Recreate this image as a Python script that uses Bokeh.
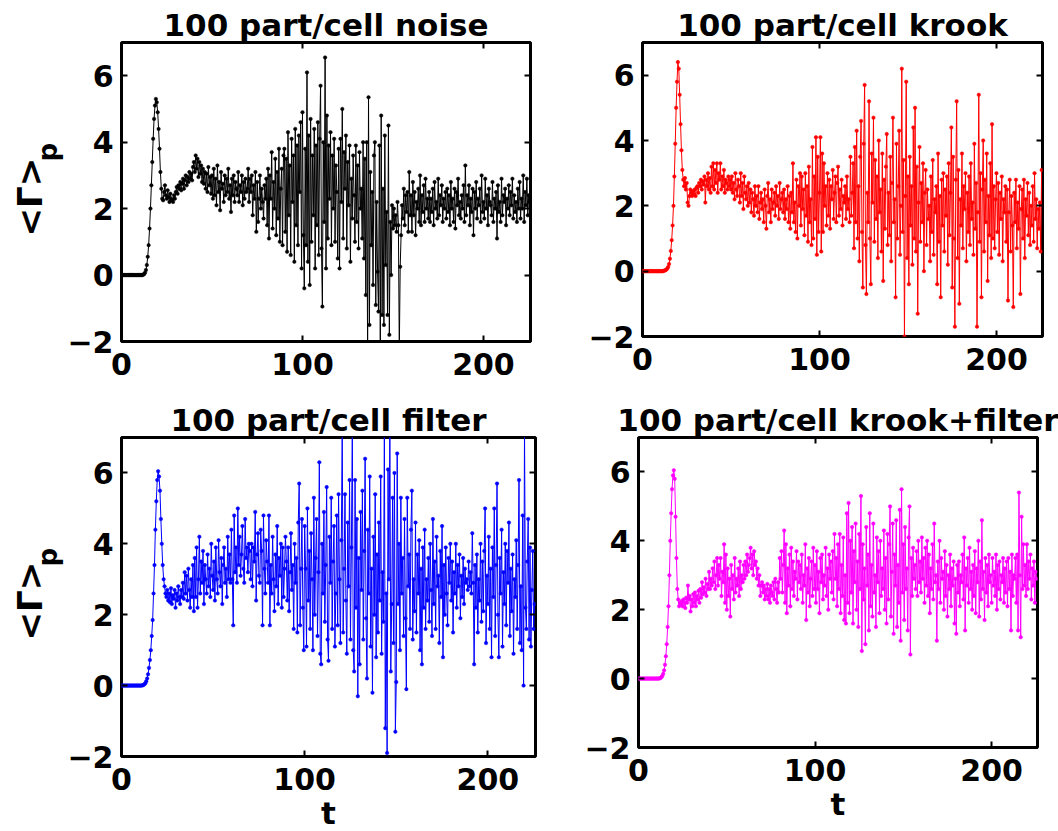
import numpy as np
from bokeh.plotting import figure
from bokeh.layouts import column, row
from bokeh.models import Range1d, FixedTicker, LinearAxis, Title
from bokeh.embed import file_html
from bokeh.resources import INLINE

DT = 0.5  # sampling step of t

titles = ["100 part/cell noise", "100 part/cell krook",
          "100 part/cell filter", "100 part/cell krook+filter"]
colors = ["#000000", "#ff0000", "#0000ff", "#ff00ff"]
x_ticks = [0, 100, 200]
y_ticks = [-2, 0, 2, 4, 6]
y_label_main = "<Γ>"
y_label_sub = "p"
x_label = "t"

gamma_noise = [
    0, 0, 0, 0, 0, 0, 0, 0, 0, 0, 0, 0, 0, 0, 0, 0, 0, 0, 0, 0,
    0, 0, 0, 0, 0.01, 0.03, 0.07, 0.15, 0.3, 0.55, 0.9, 1.4, 2.0, 2.7, 3.4, 4.1, 4.7, 5.1, 5.3, 5.2,
    4.9, 4.4, 3.8, 3.1, 2.6, 2.3, 2.25, 2.5, 2.7, 2.4, 2.3, 2.55, 2.35, 2.2, 2.45, 2.3, 2.25, 2.2, 2.4, 2.3,
    2.5, 2.65, 2.45, 2.7, 2.6, 2.8, 2.55, 2.75, 2.9, 2.6, 2.85, 3.0, 2.7, 2.95, 2.8, 3.1, 2.9, 3.05, 2.85, 3.25,
    3.4, 3.1, 3.6, 3.2, 3.5, 2.95, 3.4, 3.05, 3.3, 2.8, 3.2, 2.75, 3.1, 2.6, 3.05, 2.5, 3.25, 2.7, 2.95, 2.45,
    3.0, 2.3, 3.2, 2.4, 2.9, 2.1, 3.3, 2.5, 2.8, 1.95, 3.1, 2.6, 2.75, 2.2, 3.0, 2.4, 2.9, 2.5, 3.2, 2.3,
    2.7, 1.9, 2.9, 2.4, 3.0, 2.2, 2.8, 2.6, 2.4, 3.1, 2.2, 2.7, 2.5, 3.0, 2.1, 2.8, 2.3, 2.9, 2.5, 2.6,
    3.2, 2.2, 2.9, 2.5, 3.0, 1.8, 2.7, 2.3, 3.1, 1.3, 2.8, 1.6, 2.3, 3.0, 2.0, 2.6, 2.2, 1.7, 2.7, 2.3,
    2.9, 1.5, 3.2, 1.1, 3.0, 2.3, 3.7, 1.4, 2.8, 2.0, 3.5, 1.2, 3.1, 1.7, 3.8, 1.0, 2.6, 3.2, 0.9, 3.6,
    3.8, 1.3, 3.5, 0.7, 4.3, 1.8, 3.3, 0.6, 4.1, 2.2, 3.6, 0.4, 4.4, 1.5, 3.9, 0.9, 4.2, 2.5, 4.6, 0.2,
    4.9, 1.2, -0.4, 3.8, 0.9, 6.1, 0.4, 4.2, -0.3, 4.7, 1.0, 3.6, 1.8, 4.4, 0.2, 3.9, 1.5, 4.6, 0.6, 4.1,
    5.7, 0.8, -0.95, 4.0, 1.6, 6.55, 0.2, 4.8, 1.1, 3.9, 2.3, 4.3, 0.9, 3.6, 2.0, 4.1, 1.0, 3.3, 2.5, 0.5,
    3.8, 0.2, 4.1, 2.2, 5.0, 1.1, 3.7, 2.6, 4.2, 0.8, 3.4, 2.1, 3.9, 0.4, 2.9, 1.7, 3.6, 2.4, 1.0, 3.9,
    1.6, 3.3, 0.8, 3.7, 2.0, 2.6, 1.1, 4.0, 0.5, 3.5, -0.6, 4.0, -2.6, 5.35, -1.5, 3.1, 0.9, 2.5, -0.3, 3.6,
    4.0, -0.9, 2.2, 0.1, -1.1, 3.9, -2.5, 4.8, -1.2, 2.6, -1.5, 4.2, 0.3, 1.9, -1.2, 4.5, -1.8, 1.6, 0.0, 2.1,
    1.4, 2.0, 1.5, 1.8, 1.3, 2.2, 1.5, -2.3, 0.25, 1.2, 2.1, 1.7, 2.6, 1.5, 2.4, 1.9, 2.5, 1.3, 3.1, 1.8,
    2.4, 1.3, 2.8, 1.8, 2.5, 1.2, 2.2, 2.0, 2.6, 1.6, 3.0, 1.5, 2.4, 1.9, 2.7, 1.6, 2.9, 2.0, 2.3, 1.7,
    2.5, 1.6, 2.3, 1.9, 2.6, 1.5, 2.8, 2.0, 2.2, 1.7, 2.9, 1.8, 2.4, 2.1, 2.7, 1.6, 2.3, 2.0, 2.5, 1.7,
    2.6, 1.9, 2.4, 1.5, 2.8, 2.0, 2.3, 1.6, 2.6, 1.4, 2.5, 2.1, 2.9, 1.8, 2.2, 1.7, 2.4, 2.0, 2.7, 1.6,
    3.3, 1.8, 2.4, 2.1, 2.7, 1.5, 2.3, 1.9, 2.6, 1.2, 2.5, 2.0, 2.8, 1.7, 2.3, 2.1, 2.6, 1.6, 3.0, 1.9,
    2.2, 1.7, 2.9, 2.0, 2.4, 1.5, 2.6, 2.2, 2.1, 1.8, 2.8, 1.6, 2.3, 2.0, 2.5, 1.1, 2.7, 1.9, 2.2, 1.6,
    2.9, 1.8, 2.4, 2.2, 2.6, 1.5, 2.3, 2.0, 2.7, 1.8, 2.5, 2.1, 2.9, 1.7, 2.4, 1.9, 2.2, 1.6, 2.6, 2.0,
    2.8, 1.7, 2.3, 2.0, 3.0, 1.6, 2.5, 2.1, 2.9, 1.8, 2.4, 2.2,
]

gamma_krook = [
    0, 0, 0, 0, 0, 0, 0, 0, 0, 0, 0, 0, 0, 0, 0, 0, 0, 0, 0, 0,
    0, 0, 0, 0, 0.01, 0.02, 0.03, 0.05, 0.08, 0.13, 0.22, 0.38, 0.62, 0.95, 1.4, 2.0, 2.9, 3.9, 5.0, 5.8,
    6.4, 6.2, 5.4, 4.5, 3.7, 3.1, 2.8, 2.6, 2.85, 2.5, 2.7, 2.1, 2.0, 2.3, 2.5, 2.4, 2.3, 2.45, 2.35, 2.5,
    2.3, 2.55, 2.6, 2.4, 2.7, 2.6, 2.8, 2.5, 2.75, 2.65, 2.9, 2.1, 2.8, 2.6, 3.0, 2.5, 2.85, 2.4, 3.2, 2.6,
    3.3, 2.5, 3.1, 2.7, 3.3, 2.4, 3.0, 2.8, 3.3, 2.5, 2.9, 2.6, 3.1, 2.4, 2.8, 2.7, 2.5, 2.9, 2.6, 2.8,
    2.5, 2.9, 2.4, 2.7, 2.2, 3.0, 2.5, 2.3, 2.8, 2.6, 2.1, 3.0, 2.3, 2.7, 1.9, 2.9, 2.4, 2.2, 2.6, 2.0,
    2.7, 2.1, 2.5, 1.8, 2.4, 2.2, 1.7, 2.6, 2.0, 2.3, 1.8, 2.6, 1.6, 2.1, 2.4, 1.9, 2.2, 1.5, 2.5, 2.0,
    1.3, 2.3, 2.7, 1.8, 2.2, 1.5, 2.5, 1.9, 2.1, 2.4, 1.7, 2.6, 2.0, 2.3, 1.6, 2.7, 1.9, 2.2, 2.4, 1.8,
    2.5, 1.6, 2.2, 1.9, 2.6, 1.5, 2.3, 1.3, 2.4, 1.8, 3.3, 1.5, 2.1, 1.2, 2.8, 1.0, 2.6, 2.0, 3.0, 1.4,
    2.9, 1.9, 2.5, 1.1, 3.0, 1.7, 2.6, 0.9, 3.2, 1.5, 2.2, 0.8, 3.8, 1.0, 2.9, 1.6, 4.1, 0.5, 3.5, 1.2,
    2.4, 4.1, 0.6, 3.6, 1.2, 3.3, 2.0, 2.6, 1.4, 3.0, 1.7, 2.8, 1.3, 2.6, 2.2, 3.1, 1.6, 2.4, 2.9, 1.5,
    2.7, 3.2, 1.7, 2.5, 1.9, 2.8, 1.4, 2.3, 2.1, 2.6, 1.6, 2.9, 1.9, 2.2, 1.5, 3.5, 1.7, 2.4, 3.3, 0.7,
    3.8, 1.5, 4.3, 1.0, 2.6, 0.3, 3.5, 4.6, 1.2, -0.5, 3.9, 5.7, 0.8, -0.7, 2.4, 1.5, 5.2, 1.0, -0.4, 3.6,
    2.1, 4.7, 0.9, 3.4, 1.6, 2.9, 0.4, 4.0, 1.8, 2.5, 0.6, 3.6, -0.3, 2.8, 1.3, 3.2, 4.2, 0.8, 2.4, 1.1,
    3.5, 0.3, 2.7, 4.7, 1.5, 2.2, -0.8, 3.9, 1.0, 2.6, 4.3, 0.5, 2.0, 6.2, 1.2, 3.4, -2.0, 2.3, 5.8, 0.4,
    2.9, -0.4, 3.5, 1.4, 2.6, 0.2, 4.4, 1.0, 5.0, 0.6, 3.2, -1.3, 2.1, 3.8, 0.9, 2.7, 1.5, 3.3, 0.0, 2.4,
    3.1, 0.8, 2.5, 1.6, 2.0, 0.3, 2.9, 1.2, 3.4, 0.5, 2.2, 1.8, 2.6, -0.4, 3.6, 0.9, 2.3, -0.8, 2.8, 1.4,
    3.0, 0.6, 2.5, 1.7, 2.9, 0.2, 3.3, 1.1, 2.4, 4.4, -0.5, 3.5, 1.0, -1.7, 2.8, 5.2, 0.4, 3.1, -1.0, 2.2,
    1.4, 3.6, 0.7, 2.6, 1.9, 3.0, 0.3, 2.4, 1.2, 2.9, 0.8, 3.3, 1.6, 2.1, 0.5, 3.9, 1.3, 2.7, -1.7, 1.8,
    5.4, 0.9, 3.0, -0.8, 2.5, 4.0, 0.6, 2.8, 1.5, 3.6, -0.3, 2.3, 1.1, 3.3, 0.4, 4.5, 1.0, 2.6, 0.7, 2.2,
    3.0, 1.2, 2.7, 0.5, 2.4, 1.6, 2.9, 0.3, 2.2, 1.8, 2.6, 0.9, 2.5, -0.9, 1.8, 2.8, 0.6, 2.3, 1.4, -1.1,
    2.4, 1.5, 2.8, 0.7, 2.1, 1.3, 2.6, -0.7, 1.9, 2.5, 1.0, 2.8, 0.4, 2.2, 1.7, 2.7, 1.1, 2.4, 0.8, 2.0,
    1.4, 2.6, 0.9, 3.0, 1.6, 2.2, 0.7, 1.9, 1.3, 2.1, 0.6, 3.1,
]

gamma_filter = [
    0, 0, 0, 0, 0, 0, 0, 0, 0, 0, 0, 0, 0, 0, 0, 0, 0, 0, 0, 0,
    0, 0, 0, 0.01, 0.02, 0.04, 0.07, 0.12, 0.2, 0.32, 0.5, 0.72, 1.0, 1.4, 1.85, 2.6, 3.4, 4.4, 5.2, 5.8,
    6.05, 5.9, 5.5, 4.7, 4.0, 3.4, 3.0, 2.8, 2.6, 2.5, 2.7, 2.4, 2.6, 2.35, 2.75, 2.3, 2.55, 2.45, 2.7, 2.2,
    2.6, 2.4, 2.8, 2.5, 2.3, 2.7, 2.5, 2.9, 2.45, 3.2, 2.6, 3.1, 2.4, 3.3, 2.7, 2.2, 3.0, 2.5, 3.4, 2.1,
    3.6, 2.5, 3.9, 2.2, 3.0, 4.2, 2.6, 3.5, 2.9, 3.8, 2.3, 3.4, 3.0, 2.6, 3.7, 2.8, 3.3, 2.5, 4.0, 3.1,
    2.7, 3.5, 2.4, 3.9, 3.0, 2.6, 4.1, 3.2, 2.8, 3.6, 2.3, 3.4, 3.9, 2.9, 3.3, 2.5, 4.2, 3.0, 3.7, 2.9,
    4.4, 3.0, 1.7, 4.8, 3.2, 3.9, 2.9, 5.0, 3.4, 4.2, 3.1, 3.7, 4.5, 3.3, 2.9, 4.7, 3.6, 3.9, 3.2, 4.0,
    3.8, 3.0, 4.0, 2.8, 3.9, 3.5, 4.9, 2.4, 3.7, 4.3, 3.1, 2.9, 4.4, 3.8, 1.7, 4.8, 3.3, 2.6, 4.1, 3.5,
    2.9, 4.8, 1.7, 3.4, 2.6, 4.2, 3.0, 2.1, 3.7, 2.8, 4.5, 2.3, 3.6, 3.1, 4.0, 2.2, 3.9, 2.5, 3.3, 4.2,
    3.5, 2.4, 3.9, 2.1, 3.2, 4.3, 2.7, 3.4, 1.6, 4.0, 2.9, 3.6, 1.5, 4.6, 5.7, 1.7, 3.3, 4.7, 2.2, 1.0,
    4.5, 3.3, 1.1, 5.0, 2.4, 3.8, 1.6, 4.3, 3.0, 1.0, 5.3, 2.0, 3.6, 4.7, 1.4, 3.2, 6.3, 0.9, 0.6, 4.0,
    2.6, 4.9, 1.8, 3.4, 5.6, 1.3, 0.7, 4.2, 2.9, 5.3, 1.6, 3.5, 4.5, 1.1, 2.6, 4.8, 1.7, 5.4, 3.0, 1.2,
    4.1, 7.3, 1.5, 3.3, 5.4, 2.4, 0.9, 4.6, 2.8, 5.8, 1.3, 3.9, 7.4, 1.0, 0.4, 5.8, 2.2, 4.7, -0.3, 3.6,
    0.6, 4.9, 2.7, 5.5, 1.3, 3.8, 6.4, 1.9, 0.2, 4.4, 2.6, 5.9, 1.1, 3.3, -0.2, 4.2, 2.0, 5.4, 0.8, 3.7,
    1.5, 4.6, 2.4, 5.9, 0.9, 3.2, 1.8, 7.5, -1.2, 2.6, -1.9, 6.1, 3.0, 7.4, 0.4, 2.3, 5.3, 1.2, 6.0, -1.3,
    0.1, 6.55, 2.3, 4.0, 1.0, 5.3, 2.6, 3.6, 1.4, 4.7, 1.9, -0.1, 5.3, 2.8, 3.7, 1.6, 4.4, 5.5, 1.3, 3.0,
    2.1, 4.6, 1.5, 3.7, 2.6, 4.1, 1.0, 3.3, 0.6, 3.9, 2.2, 4.4, 1.6, 3.0, 2.4, 3.6, 1.8, 4.0, 2.7, 1.4,
    4.7, 2.3, 3.5, 1.6, 4.2, 2.8, 3.1, 1.2, 3.8, 2.5, 4.5, 0.8, 3.4, 2.0, 3.9, 2.6, 1.7, 3.6, 2.9, 4.0,
    2.4, 3.5, 1.5, 3.2, 2.6, 4.0, 2.2, 3.4, 2.8, 3.7, 1.9, 3.1, 2.5, 3.6, 2.3, 3.3, 2.9, 3.0, 2.7, 3.5,
    2.8, 3.2, 2.6, 4.3, 2.9, 0.6, 3.4, 2.2, 3.7, 1.5, 3.0, 2.4, 4.0, 1.8, 3.5, 2.1, 3.8, 5.0, 1.2, 3.1,
    2.3, 4.2, 1.6, 3.3, 0.8, 3.9, 2.5, 5.0, 1.4, 3.4, 5.7, 2.0, 0.8, 3.6, 2.6, 4.4, 1.1, 3.2, 2.3, 4.0,
    1.7, 3.8, 2.9, 4.6, 1.4, 3.3, 2.1, 3.7, 0.9, 3.0, 2.5, 4.1, 1.6, 3.4, 5.8, 1.2, 2.8, 1.0, 4.8, 0.0,
    7.3, 2.2, 1.6, 3.5, 4.7, 1.3, 3.9, 1.1, 2.7, 3.8, 1.6, 2.3,
]

gamma_krook_filter = [
    0, 0, 0, 0, 0, 0, 0, 0, 0, 0, 0, 0, 0, 0, 0, 0, 0, 0, 0, 0,
    0, 0, 0, 0, 0.01, 0.02, 0.04, 0.08, 0.14, 0.24, 0.4, 0.65, 1.0, 1.5, 2.1, 3.0, 4.0, 4.8, 5.5, 5.9,
    6.05, 5.8, 4.7, 3.5, 2.6, 2.3, 2.1, 2.2, 2.15, 2.25, 2.1, 2.3, 2.2, 2.05, 2.35, 2.2, 2.7, 2.3, 2.4, 1.95,
    2.3, 2.1, 2.45, 2.2, 2.5, 2.1, 2.4, 2.3, 2.55, 2.2, 2.6, 2.35, 2.8, 2.45, 2.65, 2.5, 2.9, 2.4, 2.75, 2.6,
    3.1, 2.6, 2.9, 2.7, 3.2, 2.8, 3.4, 2.6, 3.0, 3.5, 2.7, 3.3, 2.9, 3.5, 2.4, 3.1, 2.8, 3.9, 2.2, 3.6,
    2.0, 3.2, 2.4, 2.9, 1.8, 3.3, 2.6, 3.0, 2.3, 3.5, 2.5, 2.9, 2.7, 3.2, 2.4, 3.4, 2.6, 3.0, 2.8, 3.3,
    2.9, 3.4, 3.0, 3.6, 3.1, 3.3, 3.5, 3.8, 3.2, 3.6, 3.0, 3.7, 3.3, 3.4, 2.9, 3.2, 2.7, 3.0, 2.4, 2.7,
    2.8, 2.5, 2.7, 2.3, 2.6, 2.4, 2.75, 2.3, 2.6, 2.2, 2.7, 2.5, 2.4, 2.8, 2.3, 2.9, 2.6, 2.2, 2.8, 2.5,
    3.5, 2.9, 3.7, 2.5, 3.3, 4.3, 2.2, 3.9, 1.9, 3.2, 2.7, 3.6, 2.1, 3.8, 2.6, 3.4, 2.4, 3.1, 2.9, 3.7,
    2.3, 3.4, 2.8, 3.3, 2.6, 3.6, 2.2, 3.0, 2.7, 3.9, 1.7, 3.2, 2.5, 3.5, 2.1, 2.9, 3.4, 2.4, 3.8, 2.6,
    3.3, 2.2, 3.7, 2.6, 3.1, 1.9, 3.5, 2.8, 3.6, 2.3, 3.0, 2.7, 3.8, 2.4, 3.2, 2.0, 3.6, 2.9, 3.4, 2.5,
    3.7, 2.3, 4.2, 2.9, 3.5, 2.1, 3.9, 2.6, 4.2, 1.9, 3.3, 2.4, 4.1, 1.7, 3.0, 1.6, 4.8, 2.2, 5.1, 1.9,
    4.0, 2.5, 4.4, 1.6, 3.7, 2.8, 4.5, 2.0, 3.4, 1.5, 4.2, 2.6, 5.3, 0.8, 3.9, 2.3, 3.2, 1.0, 4.4, 2.7,
    3.6, 1.4, 4.8, 2.1, 3.3, 1.8, 4.5, 2.5, 3.0, 1.5, 4.1, 2.8, 3.7, 1.9, 4.0, 2.4, 3.2, 2.6, 4.3, 2.0,
    3.5, 1.6, 4.2, 2.3, 3.9, 5.0, 1.8, 3.1, 4.5, 1.3, 3.6, 2.7, 4.6, 1.5, 3.3, 2.2, 4.9, 1.1, 5.5, 2.5,
    3.9, 1.7, 4.4, 2.6, 3.2, 1.4, 4.1, 5.0, 0.7, 3.5, 2.4, 3.8, 2.9, 3.3, 2.6, 3.7, 2.4, 4.0, 2.8, 3.4,
    2.5, 4.1, 2.9, 3.5, 2.2, 3.8, 2.7, 4.0, 2.4, 3.6, 1.9, 3.2, 2.6, 3.9, 2.3, 4.5, 2.8, 3.0, 1.1, 3.4,
    2.6, 4.0, 2.2, 3.5, 2.9, 3.1, 2.0, 3.7, 2.4, 3.3, 1.8, 3.0, 2.6, 3.6, 2.1, 3.2, 2.7, 3.4, 1.6, 2.9,
    1.3, 3.3, 2.5, 3.4, 2.1, 3.0, 2.8, 3.6, 2.3, 4.1, 1.4, 3.2, 2.7, 3.5, 2.2, 3.8, 2.6, 3.1, 2.0, 3.3,
    2.4, 3.7, 1.9, 3.2, 2.8, 4.0, 1.8, 3.4, 2.3, 4.6, 2.6, 3.1, 1.7, 3.5, 2.5, 3.3, 2.1, 3.6, 2.8, 3.0,
    2.2, 3.5, 2.7, 3.1, 2.4, 3.6, 2.0, 3.3, 2.6, 3.4, 2.3, 3.0, 2.8, 3.5, 2.2, 3.2, 2.5, 3.4, 2.1, 3.5,
    2.6, 3.1, 1.4, 3.6, 2.4, 3.0, 2.9, 3.5, 2.2, 3.6, 1.4, 5.4, 3.0, 1.2, 4.7, 2.6, 3.9, 2.7, 3.3, 2.4,
    3.9, 2.6, 3.4, 2.9, 3.6, 2.3, 3.2, 2.7, 3.4, 2.2, 3.1, 2.9,
]

series = [gamma_noise, gamma_krook, gamma_filter, gamma_krook_filter]

FONT = "DejaVu Sans"


def style_axis(ax, ticks, labels=True, standoff=8):
    ax.ticker = FixedTicker(ticks=ticks)
    ax.axis_line_color = None
    ax.major_tick_in = 6
    ax.major_tick_out = 0
    ax.major_tick_line_width = 2
    ax.major_tick_line_color = "black"
    ax.minor_tick_line_color = None
    if labels:
        ax.major_label_text_font = FONT
        ax.major_label_text_font_style = "bold"
        ax.major_label_text_font_size = "30px"
        ax.major_label_text_color = "black"
        ax.major_label_standoff = standoff
    else:
        ax.major_label_text_font_size = "1px"
        ax.major_label_text_color = None
        ax.major_label_standoff = 0


def make_panel(i, fw, fh, bl, bt, br, bb, ylab, xlab, title_shift):
    y = series[i]
    t = np.arange(len(y)) * DT
    p = figure(frame_width=fw, frame_height=fh,
               x_range=Range1d(0, 226), y_range=Range1d(-2, 7),
               output_backend="svg", toolbar_location=None,
               min_border_left=bl, min_border_top=bt,
               min_border_right=br, min_border_bottom=bb,
               background_fill_color="white", border_fill_color="white")
    p.grid.visible = False
    p.outline_line_color = "black"
    p.outline_line_width = 3
    p.outline_line_alpha = 1.0
    xax = p.xaxis[0]
    yax = p.yaxis[0]
    style_axis(xax, x_ticks, standoff=11)
    style_axis(yax, y_ticks, standoff=8)
    rax = LinearAxis()
    style_axis(rax, y_ticks, labels=False)
    p.add_layout(rax, "right")
    tax = LinearAxis()
    style_axis(tax, x_ticks, labels=False)
    p.add_layout(tax, "above")

    p.title.text = titles[i]
    p.title.align = "center"
    p.title.offset = title_shift
    p.title.text_font = FONT
    p.title.text_font_style = "bold"
    p.title.text_font_size = "31px"
    p.title.text_color = "black"
    p.title.standoff = 0

    p.line(t, y, line_color=colors[i], line_width=1)
    p.scatter(t, y, marker="circle", size=3.5, fill_color=colors[i],
              line_color=colors[i], line_width=0.5)

    if xlab:
        xax.axis_label = x_label
        xax.axis_label_text_font = FONT
        xax.axis_label_text_font_style = "bold"
        xax.axis_label_text_font_size = "31px"
        xax.axis_label_text_color = "black"
        xax.axis_label_standoff = 2
    if ylab:
        main_off, sub_off = ylab
        sub = Title(text=y_label_sub, align="left", offset=sub_off,
                    text_font=FONT, text_font_style="bold",
                    text_font_size="26px", text_color="black", standoff=4)
        p.add_layout(sub, "left")
        main = Title(text=y_label_main, align="left", offset=main_off,
                     text_font=FONT, text_font_style="bold",
                     text_font_size="34px", text_color="black", standoff=-42)
        p.add_layout(main, "left")
    return p


p1 = make_panel(0, 409, 299, 121, 41, 30, 57, (105, 180), False, 4)
p2 = make_panel(1, 400, 294, 82, 42, 16, 61, None, False, 14)
p3 = make_panel(2, 414, 319, 121, 40, 25, 40, (116, 190), True, -6)
p4 = make_panel(3, 399, 310, 78, 40, 21, 40, None, True, -4)

layout = column(row(p1, p2), row(p3, p4))

open("out.html", "w").write(file_html(layout, INLINE))
